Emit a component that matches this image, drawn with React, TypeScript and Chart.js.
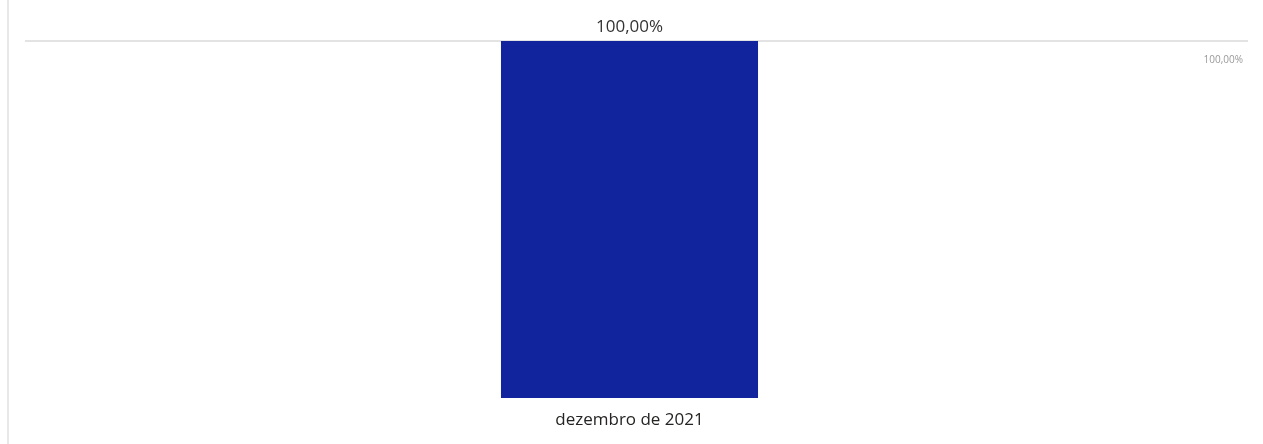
import React, { useEffect, useRef } from "react";
import { Chart, registerables } from "chart.js";

Chart.register(...registerables);

const categories: string[] = ["dezembro de 2021"];
const seriesValues: number[] = [1.0];
const yTickValues: number[] = [0, 1];

const fmtPct = (v: number) =>
  (v * 100).toFixed(2).replace(".", ",") + "%";

const FONT = "'Open Sans', 'Noto Sans', sans-serif";

const topLabels = {
  id: "topLabels",
  afterDatasetsDraw(chart: any) {
    const ctx = chart.ctx;
    const meta = chart.getDatasetMeta(0);
    ctx.save();
    ctx.font = `17px ${FONT}`;
    ctx.fillStyle = "#333333";
    ctx.textAlign = "center";
    ctx.textBaseline = "alphabetic";
    meta.data.forEach((el: any, i: number) => {
      const v = chart.data.datasets[0].data[i] as number;
      ctx.fillText(fmtPct(v), el.x, el.y - 9);
    });
    ctx.restore();
  },
};

export default function App() {
  const ref = useRef<HTMLCanvasElement | null>(null);
  useEffect(() => {
    if (!ref.current) return;
    const chart = new Chart(ref.current, {
      type: "bar",
      data: {
        labels: categories,
        datasets: [
          {
            data: seriesValues,
            backgroundColor: "#12239E",
            borderWidth: 0,
            barPercentage: 0.2126,
            categoryPercentage: 1,
          },
        ],
      },
      options: {
        animation: false,
        responsive: false,
        maintainAspectRatio: false,
        layout: { padding: { left: 25, right: 15, top: 41, bottom: 0 } },
        plugins: {
          legend: { display: false },
          tooltip: { enabled: false },
          title: { display: false },
        },
        scales: {
          x: {
            afterFit: (axis: any) => {
              axis.height = 45;
            },
            grid: { display: false, drawTicks: false, tickLength: 0 },
            border: { display: false },
            ticks: {
              padding: 11,
              color: "#252423",
              font: { family: FONT, size: 17 },
            },
          },
          y: {
            position: "right",
            min: 0,
            max: 1,
            afterBuildTicks: (axis: any) => {
              axis.ticks = yTickValues.map((v) => ({ value: v }));
            },
            afterFit: (axis: any) => {
              axis.width = 14;
            },
            border: { display: false },
            grid: {
              color: (c: any) =>
                c.tick && c.tick.value === 1 ? "#E3E3E3" : "rgba(0,0,0,0)",
              lineWidth: 2,
              tickLength: 14,
              drawTicks: true,
            },
            ticks: {
              mirror: true,
              padding: 9,
              labelOffset: 19,
              color: "#999999",
              font: { family: FONT, size: 10 },
              callback: (v: any) => (Number(v) === 1 ? fmtPct(Number(v)) : ""),
            },
          },
        },
      },
      plugins: [topLabels],
    });
    return () => chart.destroy();
  }, []);
  return (
    <div
      style={{
        position: "fixed",
        left: 0,
        top: 0,
        width: 1263,
        height: 444,
        background: "#ffffff",
      }}
    >
      <div
        style={{
          position: "absolute",
          left: 7,
          top: 0,
          width: 2,
          height: 444,
          background: "#E8E8E8",
        }}
      />
      <canvas
        ref={ref}
        width={1263}
        height={444}
        style={{ position: "absolute", left: 0, top: 0 }}
      />
    </div>
  );
}
